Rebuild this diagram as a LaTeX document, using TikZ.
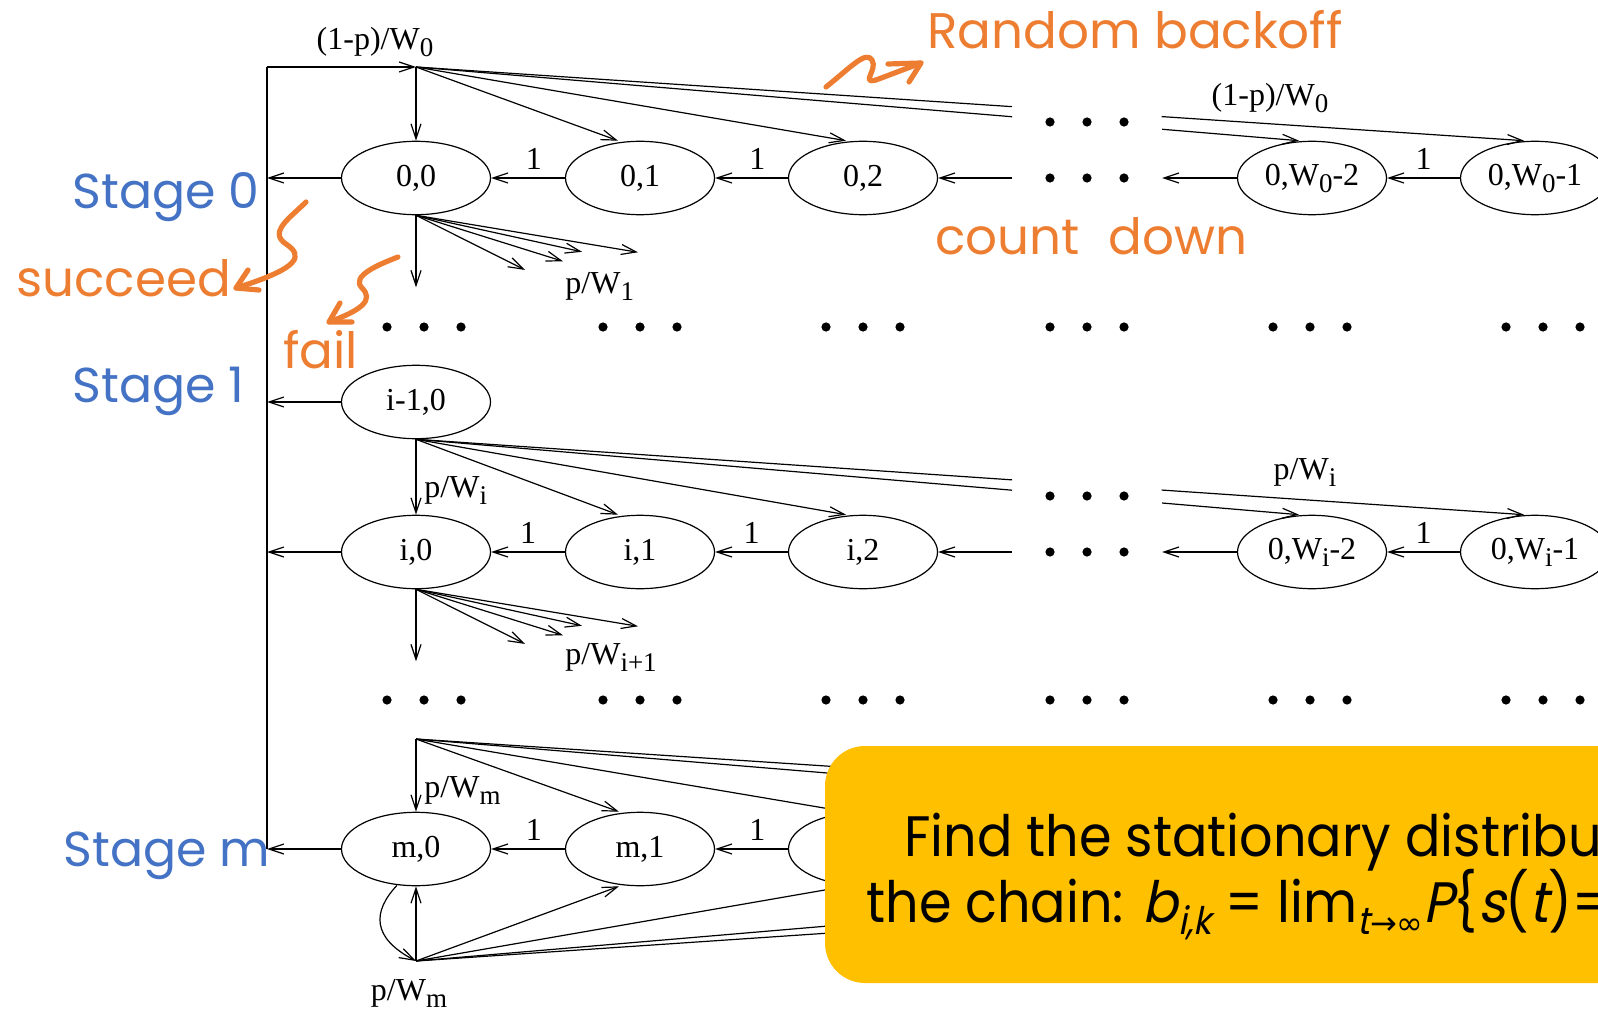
\documentclass[tikz,border=0pt]{standalone}
\usepackage{fontspec}
\setmainfont{Liberation Serif}
\newfontfamily\gothic{Poppins}
\newfontfamily\gothicnarrow[FakeStretch=0.92]{Poppins}
\newfontfamily\gothicsl[FakeSlant=0.2,FakeStretch=0.92]{Poppins}
\newfontfamily\symfont{DejaVu Sans}
\usetikzlibrary{arrows.meta,calc,shapes.geometric}
\definecolor{stageblue}{HTML}{4472C4}
\definecolor{noteorange}{HTML}{ED7D31}
\definecolor{boxyellow}{HTML}{FFC000}
% serif subscript, only slightly smaller and lowered
\newcommand\subx[1]{\raisebox{-3.5pt}{\fontsize{13.5pt}{13.5pt}\selectfont #1}}
% sans subscript for the formula in the yellow box
\newcommand\subg[1]{\raisebox{-6pt}{\fontsize{19pt}{19pt}\selectfont #1}}
\tikzset{
  stnode/.style={ellipse, draw, line width=0.6pt, minimum width=74.5pt, minimum height=36.7pt,
    inner sep=0pt, font=\fontsize{16pt}{16pt}\selectfont},
  arr/.style={line width=0.6pt, -{Straight Barb[length=7.5pt,width=5pt]}},
  ln/.style={line width=0.6pt},
  lbl/.style={font=\fontsize{16pt}{16pt}\selectfont, inner sep=0pt},
  bigdot/.style={circle, fill=black, inner sep=0pt, minimum size=4.6pt},
  stagelbl/.style={font=\gothic\fontsize{24.5pt}{24.5pt}\selectfont, text=stageblue, inner sep=0pt, anchor=base west},
  notelbl/.style={font=\gothic\fontsize{25pt}{25pt}\selectfont, text=noteorange, inner sep=0pt, anchor=base west},
  squiggle/.style={draw=noteorange, line width=2.6pt, line cap=round, line join=round},
  boxtext/.style={inner sep=0pt, anchor=base west, font=\gothicnarrow\fontsize{28.5pt}{28.5pt}\selectfont},
}
\begin{document}
\begin{tikzpicture}[x=0.5pt, y=-0.5pt]
\useasboundingbox (0,0) rectangle (1598,1010);
\clip (0,0) rectangle (1598,1010);

% ---------- states ----------
\node[stnode] (n00) at (416,178) {0,0};
\node[stnode] (n01) at (640,178) {0,1};
\node[stnode] (n02) at (863,178) {0,2};
\node[stnode] (n0a) at (1312,178) {0,W\subx{0}-2};
\node[stnode] (n0b) at (1535,178) {0,W\subx{0}-1};

\node[stnode] (nh0) at (416,402) {i-1,0};

\node[stnode] (ni0) at (416,552) {i,0};
\node[stnode] (ni1) at (640,552) {i,1};
\node[stnode] (ni2) at (863,552) {i,2};
\node[stnode] (nia) at (1312,552) {0,W\subx{i}-2};
\node[stnode] (nib) at (1535,552) {0,W\subx{i}-1};

\node[stnode] (nm0) at (416,849) {m,0};
\node[stnode] (nm1) at (640,849) {m,1};
\node[stnode] (nm2) at (863,849) {};

% ---------- helper points ----------
\coordinate (s0) at (416,67);
\coordinate (vtop) at (267,67);
\coordinate (vbot) at (267,849);
\coordinate (d0r) at (1012,178);
\coordinate (d0l) at (1162,178);
\coordinate (dir) at (1012,552);
\coordinate (dil) at (1162,552);
\coordinate (sm) at (416,739);
\coordinate (bm) at (416,961);
\coordinate (tma) at (1299,812);
\coordinate (tmb) at (1524,812);
\coordinate (uma) at (1299,886);
\coordinate (umb) at (1524,886);

% ---------- dots ----------
\foreach \y in {327,700}{
  \foreach \cx in {424,640,863,1087,1310,1543}{
    \foreach \k in {-37,0,37}
      \node[bigdot] at (\cx+\k,\y) {};
  }
}
\foreach \y in {122,178,496,552}{
  \foreach \k in {-37,0,37}
    \node[bigdot] at (1087+\k,\y) {};
}

% ---------- return line ----------
\draw[ln] (vbot) -- (vtop);
\draw[arr] (vtop) -- (s0);
\node[lbl] at (375,42) {(1-p)/W\subx{0}};
\foreach \n in {n00,nh0,ni0,nm0}
  \draw[arr] (\n.west) -- (\n.west -| vtop);

% ---------- stage 0 ----------
\draw[arr] (s0) -- (n00.north);
\draw[arr] (s0) -- ($(n01.north)+(-22,0)$);
\draw[arr] (s0) -- ($(n02.north)+(-17,0)$);
\coordinate (t0a) at ($(n0a.north)+(-13,0)$);
\coordinate (t0b) at ($(n0b.north)+(-11,0)$);
\draw[ln] (s0) -- ($(s0)!0.538!(t0b)$);
\draw[arr] ($(s0)!0.673!(t0b)$) -- (t0b);
\draw[ln] (s0) -- ($(s0)!0.675!(t0a)$);
\draw[arr] ($(s0)!0.845!(t0a)$) -- (t0a);
\node[lbl] at (1270,98) {(1-p)/W\subx{0}};

\draw[arr] (n01.west) -- node[lbl, above=4pt, pos=0.42] {1} (n00.east);
\draw[arr] (n02.west) -- node[lbl, above=4pt, pos=0.42] {1} (n01.east);
\draw[arr] (d0r) -- (n02.east);
\draw[arr] (n0a.west) -- (d0l);
\draw[arr] (n0b.west) -- node[lbl, above=4pt, pos=0.5] {1} (n0a.east);

\foreach \dx/\dy in {0/72,109/54.6,147/46,166/36.5,222/37}
  \draw[arr] (n00.south) -- ++(\dx,\dy);
\node[lbl, anchor=west] at (565,286) {p/W\subx{1}};

% ---------- stage i ----------
\draw[arr] (nh0.south) -- (ni0.north);
\node[lbl, anchor=west] at (424,490) {p/W\subx{i}};
\draw[arr] (nh0.south) -- ($(ni1.north)+(-22,0)$);
\draw[arr] (nh0.south) -- ($(ni2.north)+(-17,0)$);
\coordinate (tia) at ($(nia.north)+(-13,0)$);
\coordinate (tib) at ($(nib.north)+(-11,0)$);
\draw[ln] (nh0.south) -- ($(nh0.south)!0.538!(tib)$);
\draw[arr] ($(nh0.south)!0.673!(tib)$) -- (tib);
\draw[ln] (nh0.south) -- ($(nh0.south)!0.675!(tia)$);
\draw[arr] ($(nh0.south)!0.845!(tia)$) -- (tia);
\node[lbl] at (1305,472) {p/W\subx{i}};

\draw[arr] (ni1.west) -- node[lbl, above=4pt, pos=0.5] {1} (ni0.east);
\draw[arr] (ni2.west) -- node[lbl, above=4pt, pos=0.5] {1} (ni1.east);
\draw[arr] (dir) -- (ni2.east);
\draw[arr] (nia.west) -- (dil);
\draw[arr] (nib.west) -- node[lbl, above=4pt, pos=0.5] {1} (nia.east);

\foreach \dx/\dy in {0/72,109/54.6,147/46,166/36.5,222/37}
  \draw[arr] (ni0.south) -- ++(\dx,\dy);
\node[lbl, anchor=west] at (565,657) {p/W\subx{i+1}};

% ---------- stage m ----------
\draw[arr] (sm) -- (nm0.north);
\node[lbl, anchor=west] at (424,790) {p/W\subx{m}};
\draw[arr] (sm) -- ($(nm1.north)+(-21,0)$);
\draw[arr] (sm) -- ($(nm2.north)+(-17,0)$);
\draw[arr] (sm) -- (tma);
\draw[arr] (sm) -- (tmb);

\draw[arr] (nm1.west) -- node[lbl, above=4pt, pos=0.42] {1} (nm0.east);
\draw[arr] (nm2.west) -- node[lbl, above=4pt, pos=0.42] {1} (nm1.east);

\draw[arr] (bm) -- (nm0.south);
\draw[arr] ($(nm0.south)+(-19,-1)$) .. controls (372,912) and (372,938) .. (bm);
\draw[arr] (bm) -- ($(nm1.south)+(-21,0)$);
\draw[arr] (bm) -- ($(nm2.south)+(-17,0)$);
\draw[arr] (bm) -- (uma);
\draw[arr] (bm) -- (umb);
\node[lbl] at (409,993) {p/W\subx{m}};

% ---------- stage labels ----------
\node[stagelbl] at (72,209) {Stage 0};
\node[stagelbl] at (72,402) {Stage 1};
\node[stagelbl] at (63,866) {Stage m};

% ---------- orange notes ----------
\node[notelbl] at (927,49) {Random backoff};
\node[notelbl] at (935,255) {count\hspace{0.3em} down};
\node[notelbl] at (16,297) {succeed};
\node[notelbl] at (283,368) {fail};

\draw[squiggle] (826,87) .. controls (850,68) and (866,50) .. (872,60)
  .. controls (878,70) and (860,84) .. (876,80) -- (921,63);
\draw[squiggle] (888,64) -- (921,63) -- (909,82);

\draw[squiggle] (306,202) .. controls (290,218) and (268,232) .. (286,244)
  .. controls (304,256) and (300,268) .. (236,288);
\draw[squiggle] (248,270) -- (236,288) -- (259,290);

\draw[squiggle] (398,257) .. controls (380,264) and (350,276) .. (362,288)
  .. controls (374,300) and (362,310) .. (329,322);
\draw[squiggle] (340,303) -- (329,322) -- (352,322);

% ---------- yellow question box ----------
\fill[boxyellow, rounded corners=20pt] (825,746) rectangle (1750,983);
\node[boxtext] at (904,856) {Find the stationary distribu};
\node[boxtext] at (866,922) {the chain: {\gothicsl b}\subg{\gothicsl i,k} = lim\subg{{\gothicsl t}{\symfont\fontsize{16pt}{16pt}\selectfont →∞}}{\gothicsl P}\{{\gothicsl s}({\gothicsl t})=};
\end{tikzpicture}
\end{document}
